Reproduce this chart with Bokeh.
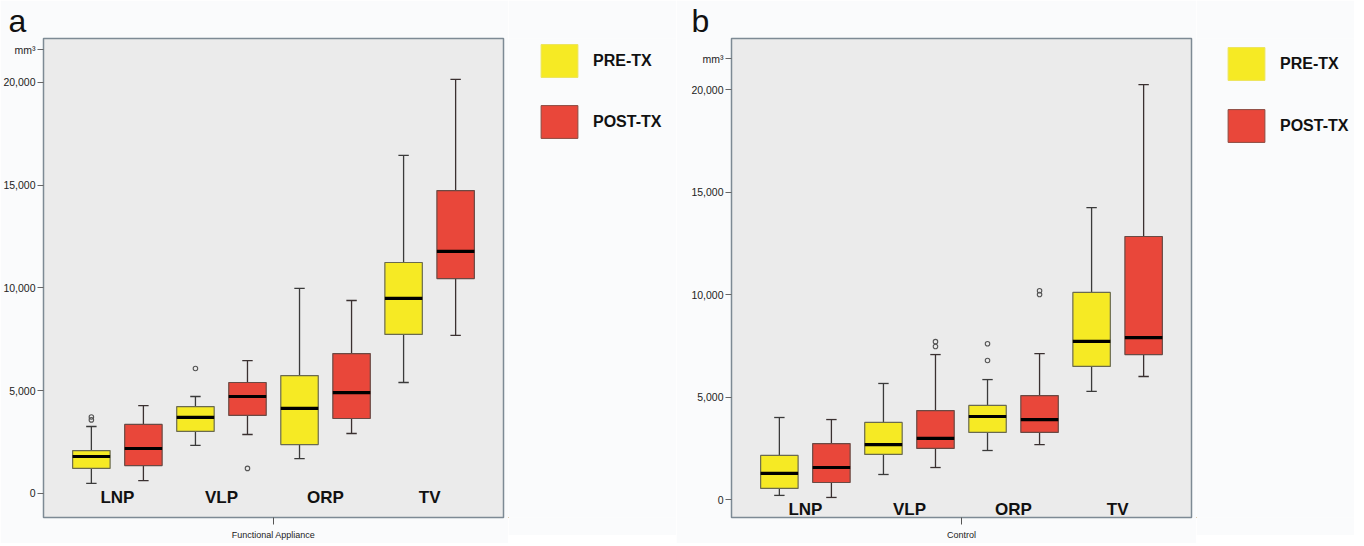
from bokeh.plotting import figure
from bokeh.layouts import row
from bokeh.models import (ColumnDataSource, FixedTicker, NumeralTickFormatter,
                          Legend, LegendItem, Range1d)
from bokeh.core.properties import value
from bokeh.embed import file_html
from bokeh.resources import INLINE

groups = ["LNP", "VLP", "ORP", "TV"]
y_ticks = [0, 5000, 10000, 15000, 20000]
series_names = ["PRE-TX", "POST-TX"]

# Panel a: Functional Appliance
a_pre_low = [490, 2340, 1700, 5400]
a_pre_q1 = [1220, 3020, 2380, 7740]
a_pre_med = [1800, 3700, 4140, 9490]
a_pre_q3 = [2090, 4230, 5740, 11240]
a_pre_high = [3260, 4720, 9980, 16450]
a_post_low = [630, 2870, 2920, 7690]
a_post_q1 = [1360, 3800, 3650, 10460]
a_post_med = [2190, 4720, 4910, 11780]
a_post_q3 = [3360, 5400, 6810, 14740]
a_post_high = [4280, 6470, 9390, 20150]
a_pre_out_group = ["LNP", "LNP", "VLP"]
a_pre_out_val = [3580, 3720, 6080]
a_post_out_group = ["VLP"]
a_post_out_val = [1220]

# Panel b: Control
b_pre_low = [200, 1220, 2390, 5270]
b_pre_q1 = [540, 2200, 3270, 6490]
b_pre_med = [1270, 2680, 4050, 7710]
b_pre_q3 = [2150, 3760, 4590, 10100]
b_pre_high = [4000, 5660, 5850, 14240]
b_post_low = [100, 1560, 2680, 6000]
b_post_q1 = [830, 2490, 3270, 7070]
b_post_med = [1560, 2980, 3900, 7900]
b_post_q3 = [2730, 4340, 5070, 12830]
b_post_high = [3900, 7070, 7120, 20240]
b_pre_out_group = ["ORP", "ORP"]
b_pre_out_val = [6780, 7600]
b_post_out_group = ["VLP", "VLP", "ORP", "ORP"]
b_post_out_val = [7460, 7700, 10000, 10180]

PRE_COLOR = "#f6ea24"
POST_COLOR = "#e9473a"
PRE_EDGE = "#6a6a50"
POST_EDGE = "#6a4a44"
BG = "#fafbfc"
FONT = "Liberation Sans"
OFFSET = 0.25
BOX_W = 0.36
CAP = 0.05
TOP, FRAME_H, BOTTOM = 30, 479, 26


def draw_series(p, offset, low, q1, med, q3, high, color, box_line, whisk_color):
    xs = [i + offset for i in range(len(groups))]
    src = ColumnDataSource(dict(x=xs, low=low, q1=q1, med=med, q3=q3, high=high,
                                xl=[x - CAP for x in xs], xr=[x + CAP for x in xs],
                                ml=[x - BOX_W / 2 for x in xs], mr=[x + BOX_W / 2 for x in xs]))
    p.segment(x0="x", y0="q3", x1="x", y1="high", source=src, line_color=whisk_color, line_width=1.3)
    p.segment(x0="x", y0="q1", x1="x", y1="low", source=src, line_color=whisk_color, line_width=1.3)
    p.segment(x0="xl", y0="high", x1="xr", y1="high", source=src, line_color=whisk_color, line_width=1.3)
    p.segment(x0="xl", y0="low", x1="xr", y1="low", source=src, line_color=whisk_color, line_width=1.3)
    p.vbar(x="x", width=BOX_W, bottom="q1", top="q3", source=src, fill_color=color,
           line_color=box_line, line_width=1.2)
    p.segment(x0="ml", y0="med", x1="mr", y1="med", source=src, line_color="black", line_width=3.2)


def draw_outliers(p, offset, out_groups, out_vals):
    xs = [groups.index(g) + offset for g in out_groups]
    p.scatter(x=xs, y=out_vals, marker="circle", size=4.5, fill_color=None,
              line_color="#555555", line_width=1.1)


def make_panel(letter, xlabel, ylo, yhi, left, right, label_y, pre, post, pre_out, post_out,
               mm_y, letter_dx):
    p = figure(frame_width=460, frame_height=FRAME_H, x_range=Range1d(-0.71, 3.71),
               y_range=Range1d(ylo, yhi), output_backend="svg", toolbar_location=None,
               min_border_left=left, min_border_right=right, min_border_top=TOP,
               min_border_bottom=BOTTOM, title=letter)
    p.title.align = "left"
    p.title.offset = -letter_dx
    p.title.text_font = FONT
    p.title.text_font_size = "32px"
    p.title.text_font_style = "normal"
    p.title.text_color = "#111111"
    p.title.text_line_height = 0.7
    p.title.standoff = 0

    p.background_fill_color = "#ebebeb"
    p.border_fill_color = BG
    p.outline_line_color = "#7d8a94"
    p.outline_line_width = 1.5
    p.xgrid.visible = False
    p.ygrid.visible = False

    p.yaxis.ticker = FixedTicker(ticks=y_ticks + [mm_y])
    p.yaxis.formatter = NumeralTickFormatter(format="0,0")
    p.yaxis.major_label_overrides = {mm_y: "mm³"}
    p.yaxis.major_label_text_font = FONT
    p.yaxis.major_label_text_font_size = "10.5px"
    p.yaxis.major_label_text_color = "#222222"
    p.yaxis.major_tick_out = 6
    p.yaxis.major_tick_in = 0
    p.yaxis.major_tick_line_color = "#666666"
    p.yaxis.minor_tick_line_color = None
    p.yaxis.axis_line_color = "#7d8a94"
    p.yaxis.major_label_standoff = 2

    p.xaxis.ticker = FixedTicker(ticks=[1.5])
    p.xaxis.major_label_overrides = {1.5: ""}
    p.xaxis.major_label_text_font_size = "1px"
    p.xaxis.major_label_standoff = 0
    p.xaxis.major_tick_out = 7
    p.xaxis.major_tick_in = 0
    p.xaxis.major_tick_line_color = "#555555"
    p.xaxis.minor_tick_line_color = None
    p.xaxis.axis_line_color = "#7d8a94"
    p.xaxis.axis_label = xlabel
    p.xaxis.axis_label_text_font = FONT
    p.xaxis.axis_label_text_font_size = "9px"
    p.xaxis.axis_label_text_font_style = "normal"
    p.xaxis.axis_label_text_color = "#222222"
    p.xaxis.axis_label_standoff = 5

    draw_series(p, -OFFSET, *pre, PRE_COLOR, PRE_EDGE, "#3a3a3a")
    draw_series(p, OFFSET, *post, POST_COLOR, POST_EDGE, "#3a3030")
    draw_outliers(p, -OFFSET, *pre_out)
    draw_outliers(p, OFFSET, *post_out)

    p.text(x=list(range(len(groups))), y=[label_y] * len(groups), text=groups,
           text_font=value(FONT), text_font_size="17px", text_font_style="bold",
           text_align="center", text_baseline="middle", text_color="#111111")
    return p


def make_legend(width, loc, glyph_h, spacing):
    lf = figure(width=width, frame_height=FRAME_H, x_range=Range1d(0, 1), y_range=Range1d(0, 1),
                output_backend="svg", toolbar_location=None, x_axis_location=None,
                y_axis_location=None, min_border_left=0, min_border_right=0,
                min_border_top=TOP, min_border_bottom=BOTTOM)
    lf.background_fill_color = BG
    lf.border_fill_color = BG
    lf.outline_line_color = None
    lf.xgrid.visible = False
    lf.ygrid.visible = False
    # zero-height bars outside the visible range: they only carry the legend swatch style
    r_pre = lf.vbar(x=[-5], bottom=[0], top=[0], width=0.1, fill_color=PRE_COLOR,
                    line_color="#ece45a", line_width=1)
    r_post = lf.vbar(x=[-5], bottom=[0], top=[0], width=0.1, fill_color=POST_COLOR,
                     line_color="#8a4a40", line_width=1)
    legend = Legend(items=[LegendItem(label=series_names[0], renderers=[r_pre]),
                           LegendItem(label=series_names[1], renderers=[r_post])],
                    location=loc, orientation="vertical",
                    glyph_width=46, glyph_height=glyph_h, spacing=spacing,
                    label_standoff=11, label_text_font=FONT, label_text_font_size="16px",
                    label_text_font_style="bold", label_text_color="#111111",
                    padding=0, margin=0, border_line_alpha=0, background_fill_alpha=0,
                    label_height=glyph_h)
    lf.add_layout(legend)
    return lf


pa = make_panel("a", "Functional Appliance", -1168, 22140, 41, 5, -195,
                (a_pre_low, a_pre_q1, a_pre_med, a_pre_q3, a_pre_high),
                (a_post_low, a_post_q1, a_post_med, a_post_q3, a_post_high),
                (a_pre_out_group, a_pre_out_val), (a_post_out_group, a_post_out_val),
                21600, 35)
la = make_legend(168, (28, 375), 41, 20)
pb = make_panel("b", "Control", -878, 22488, 55, 5, -488,
                (b_pre_low, b_pre_q1, b_pre_med, b_pre_q3, b_pre_high),
                (b_post_low, b_post_q1, b_post_med, b_post_q3, b_post_high),
                (b_pre_out_group, b_pre_out_val), (b_post_out_group, b_post_out_val),
                21510, 40)
lb = make_legend(158, (27, 371), 41, 21)

layout = row(pa, la, pb, lb)
open("out.html", "w").write(file_html(layout, INLINE))
